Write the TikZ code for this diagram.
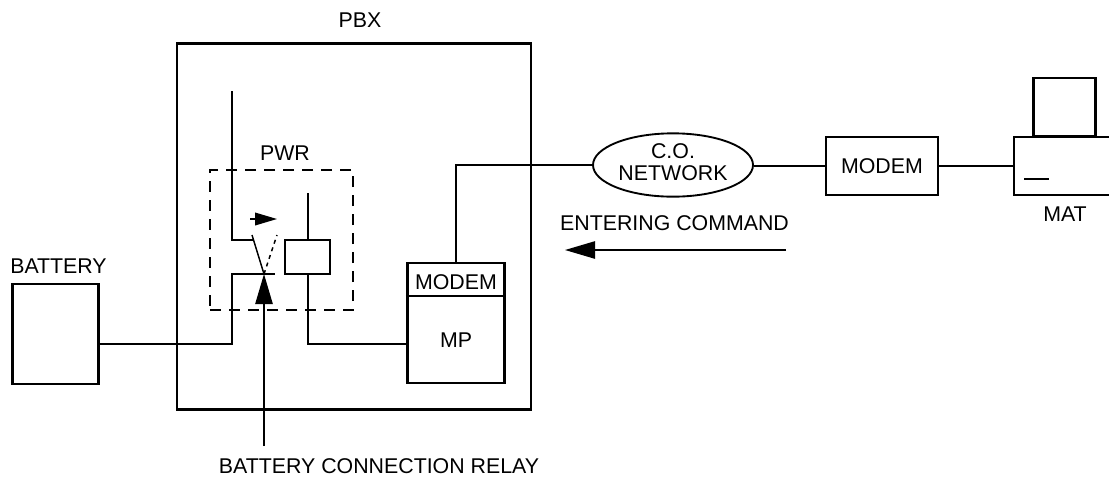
\documentclass[tikz,border=0pt]{standalone}
\usepackage{fontspec}
\setmainfont{Liberation Sans}
\usetikzlibrary{arrows.meta,shapes.geometric}
\tikzset{
  txt/.style={inner sep=0pt, align=center, font=\fontsize{16}{16.5}\selectfont},
  box/.style={draw, line width=2.2pt, txt},
  wire/.style={line width=1.1pt},
  bigtip/.style={-{Triangle[length=22.5pt,width=13pt]}, line width=1.1pt},
  smalltip/.style={-{Triangle[length=16.5pt,width=9.5pt]}, line width=1.1pt}
}
\begin{document}
\begin{tikzpicture}[x=0.75pt, y=-0.75pt]
\useasboundingbox (0,0) rectangle (1109,476);
\node (pbx) at (354, 226.5) [box, minimum width=265.5pt, minimum height=275pt] {};
\node (pwr) at (281.5, 240) [draw, dash pattern=on 8.5pt off 5.75pt, line width=1.1pt, minimum width=107.25pt, minimum height=105pt, inner sep=0pt] {};
\node (battery) at (55.5, 334) [box, minimum width=65pt, minimum height=75pt] {};
\node (relay) at (307.5, 257) [box, minimum width=33.75pt, minimum height=25.5pt] {};
\node (mpbox) at (456, 323) [box, minimum width=73pt, minimum height=90pt] {};
\node (mpmodem) at (456, 282) [txt] {MODEM};
\node (mplabel) at (456, 340) [txt] {MP};
\node (network) at (673, 165) [ellipse, draw, line width=1.4pt, minimum width=120pt, minimum height=47.5pt, txt, text depth=5pt] {C.O.\\NETWORK};
\node (modem) at (882, 166) [box, minimum width=84pt, minimum height=43.5pt] {MODEM};
\node (display) at (1064.5, 107) [box, minimum width=46.5pt, minimum height=43.5pt] {};
\node (pbxlabel) at (360, 20) [txt] {PBX};
\node (pwrlabel) at (285, 153) [txt] {PWR};
\node (batterylabel) at (58.5, 266) [txt] {BATTERY};
\node (matlabel) at (1065, 214) [txt] {MAT};
\node (commandlabel) at (674.5, 223) [txt] {ENTERING COMMAND};
\node (relaylabel) at (379, 466) [txt] {BATTERY CONNECTION RELAY};
\coordinate (matin) at (1014, 166);
\coordinate (bjoin) at (232, 344);
\coordinate (lowcontact) at (232, 274);
\coordinate (lowend) at (275, 274);
\coordinate (upcontact) at (232, 240);
\coordinate (upstart) at (232, 91);
\coordinate (upend) at (253, 240);
\coordinate (pivot) at (264, 274);
\coordinate (swopen) at (277, 235);
\coordinate (swclosed) at (252, 235);
\coordinate (movefrom) at (250, 219);
\coordinate (moveto) at (277, 219);
\coordinate (coiltop) at (308, 193);
\coordinate (mpin) at (408, 344);
\coordinate (divider) at (456, 296);
\coordinate (relayfoot) at (264, 446);
\coordinate (cmdfrom) at (786, 250);
\coordinate (cmdto) at (565, 250);
% MAT case, cut off by the page edge
\draw [line width=2.2pt] (1109, 137) -| (1014, 195) -- (1109, 195);
\draw [wire] (1024, 179) -- (1049, 179);
\draw [wire] (mpbox.west |- divider) -- (mpbox.east |- divider);
\draw [wire] (battery.east |- bjoin) -- (bjoin) -- (lowcontact) -- (lowend);
\draw [wire] (upstart) -- (upcontact) -- (upend);
\draw [wire] (swclosed) -- (pivot);
\draw [wire, dashed] (pivot) -- (swopen);
\draw [wire] (coiltop) -- (coiltop |- relay.north);
\draw [wire] (coiltop |- relay.south) |- (mpin);
\draw [wire] (mpbox.north) |- (network.west);
\draw [wire] (network.east |- modem.west) -- (modem.west);
\draw [wire] (modem.east) -- (matin);
\draw [bigtip] (relayfoot) -- (pivot);
\draw [smalltip] (movefrom) -- (moveto);
\draw [bigtip] (cmdfrom) -- (cmdto);
\end{tikzpicture}
\end{document}
